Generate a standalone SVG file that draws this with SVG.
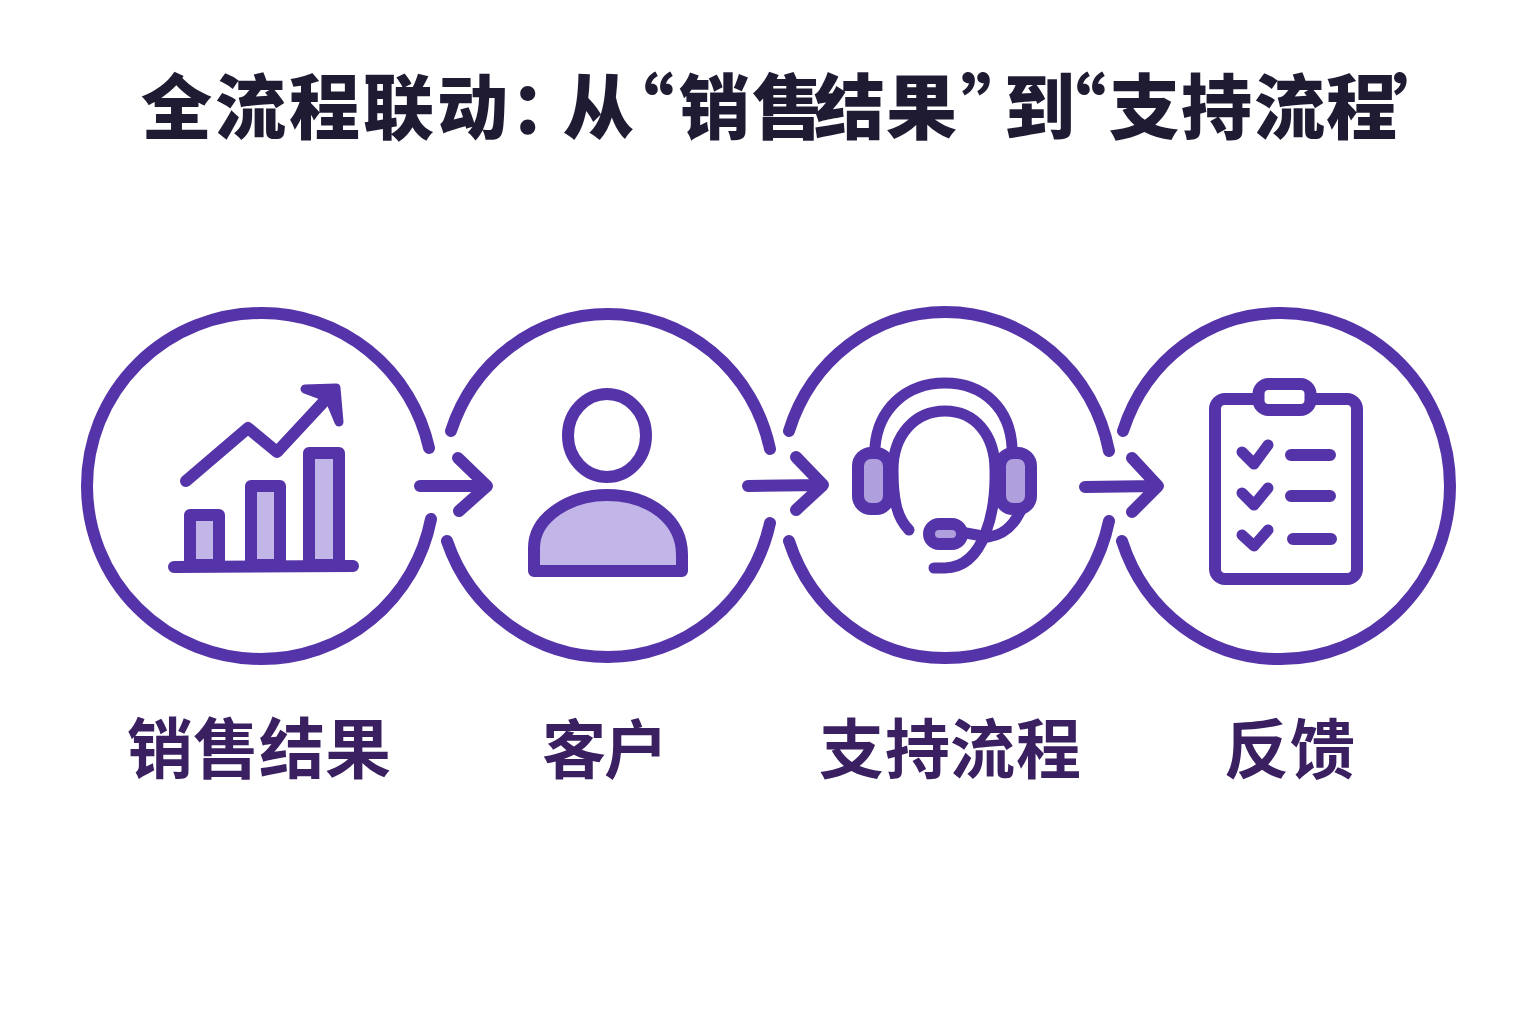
<svg xmlns="http://www.w3.org/2000/svg" width="1536" height="1024" viewBox="0 0 1536 1024">
<style>
.ln{fill:none;stroke:#5533a8;stroke-width:12;stroke-linecap:round;stroke-linejoin:round}
.fl{fill:#c2b5e8;stroke:#5533a8;stroke-width:12;stroke-linejoin:round}
.fh{fill:#b09fdd;stroke:#5533a8;stroke-width:12;stroke-linejoin:round}
.wh{fill:#fff;stroke:#5533a8;stroke-width:12;stroke-linejoin:round}
.tt{font-family:"Noto Sans CJK SC","Noto Sans",sans-serif;font-weight:900;font-size:71px;fill:#1f1b33}
.lb{font-family:"Noto Sans CJK SC","Noto Sans",sans-serif;font-weight:700;fill:#3a2060}
</style>
<rect width="1536" height="1024" fill="#fff"/>
<text id="title" class="tt" y="133" x="141 215 289 363 437 510 563 603 679 752 814 886 961 1004 1035 1109 1181 1254 1326 1392">全流程联动：从“销售结果”到“支持流程’</text>
<g id="connectors">
<path class="ln" d="M420 486H486M458 458L487 486L459 511"/>
<path class="ln" d="M748 486L822 485M796 457L823 485L796 510"/>
<path class="ln" d="M1085 487L1157 486M1132 458L1158 486L1132 512"/>
</g>
<g id="node-sales">
<path class="ln" d="M431 519A173 173 0 0 1 261 659A174 173 0 0 1 87 486A174 173 0 0 1 261 313A171 173 0 0 1 429 448"/>
<path class="ln" d="M174 567L353 566"/>
<path class="fl" d="M190 565V515H219V565Z"/>
<path class="fl" d="M251 565V486H280V565Z"/>
<path class="fl" d="M309 565V453H339V565Z"/>
<path class="ln" d="M186 481L248 428L277 452L330 395"/>
<path d="M305 389L336 388L339 422L329 398Z" fill="#5533a8" stroke="#5533a8" stroke-width="9" stroke-linejoin="round"/>
<text class="lb" font-size="66" y="773" x="127 193 259 325">销售结果</text>
</g>
<g id="node-customer">
<path class="ln" d="M451 431A166 172 0 0 1 608 314A166 172 0 0 1 770 449"/>
<path class="ln" d="M447 541A170 172 0 0 0 608 657A166 172 0 0 0 770 523"/>
<ellipse class="ln" cx="607" cy="435.500" rx="39" ry="41.500"/>
<path class="fl" d="M534 571V548C534 517 570 495 607 495C650 495 682 520 682 555V571Z"/>
<text class="lb" font-size="64" y="773" x="542 604">客户</text>
</g>
<g id="node-support">
<path class="ln" d="M789 431A164 173 0 0 1 945 312A167 173 0 0 1 1109 451"/>
<path class="ln" d="M789 541A164 173 0 0 0 945 658A167 173 0 0 0 1109 521"/>
<path class="ln" style="stroke-width:11" d="M875 447C878 410 905 383 945 383C985 383 1010 410 1012 447"/>
<path class="ln" style="stroke-width:11" d="M909 530C897 518 893 500 893 470C893 435 915 411 945 411C975 411 995 435 995 470C996 510 985 567 945 568L934 568"/>
<path class="ln" style="stroke-width:11" d="M1020 512C1012 528 1002 535 988 537L966 533"/>
<rect class="fh" x="858" y="453" width="31" height="56" rx="13"/>
<rect class="fh" x="1000" y="453" width="31" height="56" rx="13"/>
<rect class="fh" x="929" y="524" width="33" height="20" rx="10"/>
<text class="lb" font-size="65" y="773" x="819 885 950 1016">支持流程</text>
</g>
<g id="node-feedback">
<path class="ln" d="M1122 541A165 173 0 0 0 1281 659A169 173 0 0 0 1450 486A169 173 0 0 0 1281 313A165 173 0 0 0 1123 431"/>
<rect class="ln" x="1215" y="399" width="142" height="180" rx="10"/>
<rect class="wh" x="1258.500" y="384" width="52" height="26" rx="10"/>
<path class="ln" style="stroke-width:11" d="M1242 452L1254 464L1268 445M1242 493L1254 505L1268 488M1242 535L1254 546L1268 530"/>
<path class="ln" d="M1291 455H1330M1291 496H1330M1293 539H1331"/>
<text class="lb" font-size="65" y="773" x="1224 1290">反馈</text>
</g>
</svg>
